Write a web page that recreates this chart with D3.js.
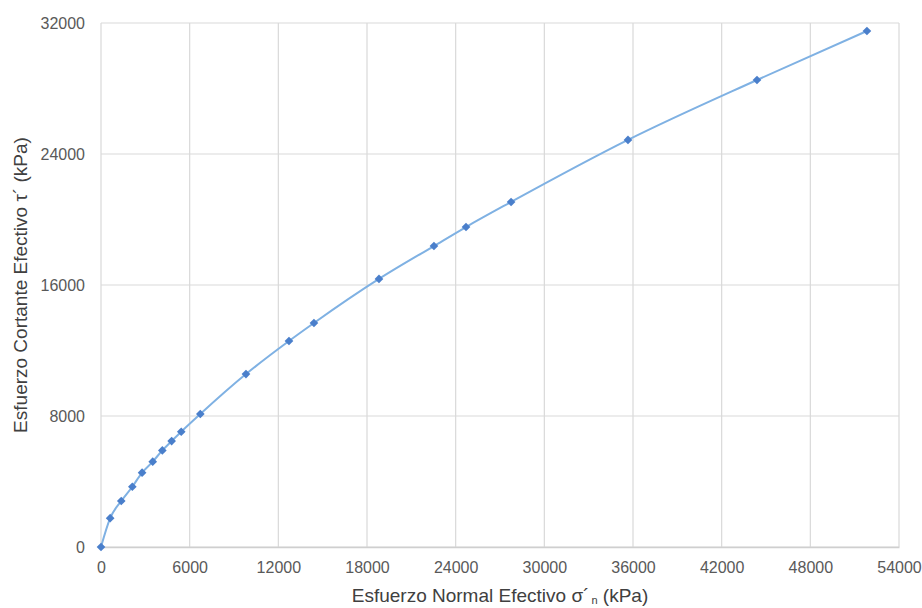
<!DOCTYPE html>
<html>
<head>
<meta charset="utf-8">
<script src="https://cdn.jsdelivr.net/npm/d3@7"></script>
<style>
  body { margin: 0; background: #fff; overflow: hidden; }
  svg { display: block; }
  text { font-family: "Liberation Sans", Arial, sans-serif; }
</style>
</head>
<body>
<svg id="chart"></svg>
<script>
// Effective normal stress (kPa)
const sigmaN = [0, 620, 1370, 2120, 2780, 3500, 4150, 4780, 5430, 6720,
    9810, 12720, 14410, 18810, 22530, 24700, 27750, 35660, 44390, 51830];
// Effective shear stress (kPa)
const tau = [0, 1760, 2810, 3680, 4540, 5210, 5900, 6470, 7040, 8120,
    10560, 12580, 13680, 16370, 18380, 19540, 21070, 24860, 28520, 31510];
const xTicks = [0, 6000, 12000, 18000, 24000, 30000, 36000, 42000, 48000, 54000];
const yTicks = [0, 8000, 16000, 24000, 32000];

const width = 922, height = 608;
const margin = { top: 23, right: 23, bottom: 61, left: 101 };
const innerWidth = width - margin.left - margin.right;
const innerHeight = height - margin.top - margin.bottom;

const svg = d3.select('#chart').attr('width', width).attr('height', height);
const g = svg.append('g').attr('transform', `translate(${ margin.left },${ margin.top })`);

const x = d3.scaleLinear().domain([0, 54000]).range([0, innerWidth]);
const y = d3.scaleLinear().domain([0, 32000]).range([innerHeight, 0]);

// Gridlines
g.append('g')
    .selectAll('line')
    .data(xTicks)
    .join('line')
    .attr('x1', d => x(d)).attr('x2', d => x(d))
    .attr('y1', 0).attr('y2', innerHeight)
    .attr('stroke', '#d9d9d9').attr('stroke-width', 1.2);
g.append('g')
    .selectAll('line')
    .data(yTicks)
    .join('line')
    .attr('x1', 0).attr('x2', innerWidth)
    .attr('y1', d => y(d)).attr('y2', d => y(d))
    .attr('stroke', '#d9d9d9').attr('stroke-width', 1.2);

// Axes
const xAxis = g.append('g')
    .attr('transform', `translate(0,${ innerHeight })`)
    .call(d3.axisBottom(x).tickValues(xTicks).tickFormat(d3.format('d')).tickSize(0).tickPadding(15));
const yAxis = g.append('g')
    .call(d3.axisLeft(y).tickValues(yTicks).tickFormat(d3.format('d')).tickSize(0).tickPadding(16));
[xAxis, yAxis].forEach(a => {
    a.select('.domain').attr('stroke', '#cfcfcf').attr('stroke-width', 1.5);
    a.selectAll('text').attr('fill', '#595959').style('font-size', '16px');
});
yAxis.select('.domain').remove();
yAxis.selectAll('text').attr('dy', '0.35em');

// Data line
const pts = sigmaN.map((s, i) => [s, tau[i]]);
g.append('path')
    .datum(pts)
    .attr('fill', 'none')
    .attr('stroke', '#7fb1e3')
    .attr('stroke-width', 2)
    .attr('d', d3.line().curve(d3.curveMonotoneX).x(d => x(d[0])).y(d => y(d[1])));

g.append('g')
    .selectAll('path')
    .data(pts)
    .join('path')
    .attr('transform', d => `translate(${ x(d[0]) },${ y(d[1]) })`)
    .attr('d', d3.symbol(d3.symbolDiamond2, 48))
    .attr('fill', '#4a7fcb');

// Axis titles
const xt = svg.append('text')
    .attr('x', 500)
    .attr('y', 602)
    .attr('text-anchor', 'middle')
    .attr('fill', '#404040')
    .style('font-size', '19px');
xt.append('tspan').text('Esfuerzo Normal Efectivo σ´');
xt.append('tspan').attr('dx', 2).attr('dy', 2).style('font-size', '11px').text('n');
xt.append('tspan').attr('dy', -2).text(' (kPa)');

svg.append('text')
    .attr('transform', `translate(27,285) rotate(-90)`)
    .attr('text-anchor', 'middle')
    .attr('fill', '#404040')
    .style('font-size', '19px')
    .text('Esfuerzo Cortante Efectivo τ´ (kPa)');
</script>
</body>
</html>
